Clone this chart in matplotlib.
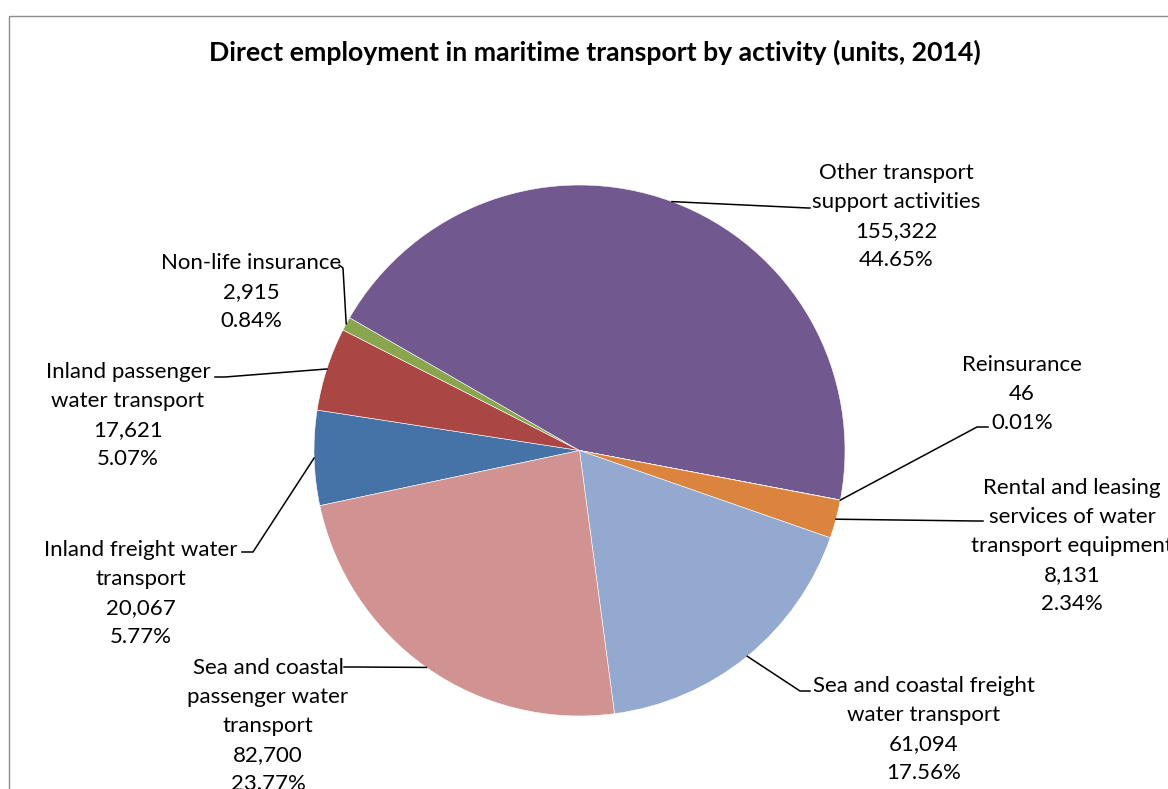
import numpy as np
import matplotlib.pyplot as plt
from matplotlib.patches import Rectangle

W, H = 1168, 789

categories = [
    "Inland freight water\ntransport",
    "Inland passenger\nwater transport",
    "Non-life insurance",
    "Other transport\nsupport activities",
    "Reinsurance",
    "Rental and leasing\nservices of water\ntransport equipment",
    "Sea and coastal freight\nwater transport",
    "Sea and coastal\npassenger water\ntransport",
]
employment = [20067, 17621, 2915, 155322, 46, 8131, 61094, 82700]
colors = ["#4572A7", "#AA4643", "#89A54E", "#71588F",
          "#4198AF", "#DB843D", "#93A9CF", "#D19392"]

# label block centre x, first line y (pixels from top), and leader path
# (knee, end) from the wedge edge towards the label
label_x = [141, 128, 251, 896, 1022, 1072, 924, 268]
label_y = [550, 372, 263, 173, 365, 488, 686, 668]
leader = [
    [(253, 552), (242, 552)],
    [(225, 377), (215, 377)],
    [(343, 268), (339, 265)],
    [(808, 208), (810, 208)],
    [(977, 427), (988, 427)],
    [(975, 521), (983, 521)],
    [(800, 691), (810, 691)],
    [(355, 667), (344, 667)],
]

plt.rcParams["font.family"] = ["Lato", "DejaVu Sans"]


def px(x, y):
    # pixel position measured from the top-left corner -> data coords
    return x, H - y


fig = plt.figure(figsize=(W / 100, H / 100), dpi=100)
ax = fig.add_axes([0, 0, 1, 1])
ax.set_xlim(0, W)
ax.set_ylim(0, H)
ax.axis("off")

# chart area border
ax.add_patch(Rectangle(px(8.5, 900), 1300, 900 - 15.5, fill=False,
                       edgecolor="#8C8C8C", linewidth=1.0))

cx, cy = px(579.5, 450.5)
radius = 265.5
wedges, _ = ax.pie(employment, colors=colors, startangle=192,
                   counterclock=False, center=(cx, cy), radius=radius,
                   wedgeprops=dict(edgecolor="white", linewidth=0.4))
ax.set_xlim(0, W)
ax.set_ylim(0, H)
ax.set_aspect("equal")

ax.text(*px(595, 52), "Direct employment in maritime transport by activity (units, 2014)",
        ha="center", va="center", fontsize=19.2, fontweight="bold")

total = sum(employment)
for i, w in enumerate(wedges):
    mid = np.deg2rad((w.theta1 + w.theta2) / 2)
    start = (cx + radius * np.cos(mid), cy + radius * np.sin(mid))
    pts = [start] + [px(*p) for p in leader[i]]
    ax.plot([p[0] for p in pts], [p[1] for p in pts], color="black", lw=1.1)

    lines = categories[i].split("\n")
    lines += [f"{employment[i]:,}", f"{employment[i] / total * 100:.2f}%"]
    for k, line in enumerate(lines):
        ax.text(*px(label_x[i], label_y[i] + 29 * k), line,
                ha="center", va="center", fontsize=16, color="black")

fig.savefig("out.png", dpi=100)
